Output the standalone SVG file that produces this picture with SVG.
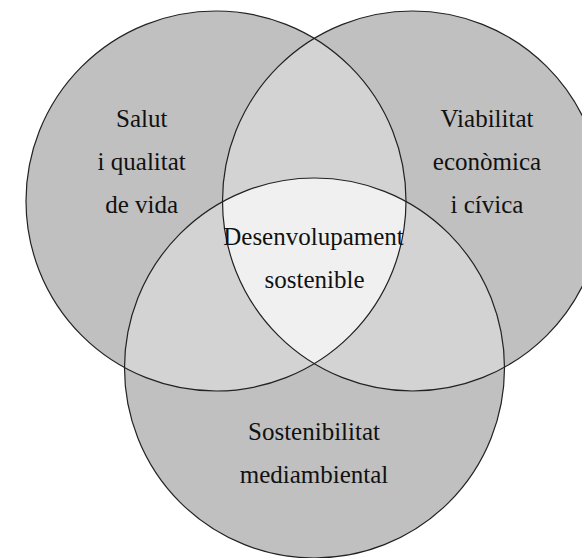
<svg xmlns="http://www.w3.org/2000/svg" width="582" height="558" viewBox="0 0 582 558">
<style>
.base{fill:#c0c0c0;stroke:none}
.pair{fill:#d3d3d3;stroke:none}
.triple{fill:#f0f0f0;stroke:none}
.edge{fill:none;stroke:#222;stroke-width:1.2}
.lbl{font-family:"Liberation Serif","Times New Roman",serif;font-size:25px;fill:#111;text-anchor:middle}
</style>
<defs>
<clipPath id="cL"><circle cx="216" cy="201" r="190"/></clipPath>
<clipPath id="cR"><circle cx="412.5" cy="201" r="190"/></clipPath>
<clipPath id="cB"><circle cx="314.5" cy="368" r="190"/></clipPath>
</defs>
<rect width="582" height="558" fill="#ffffff"/>
<g id="fills">
<circle class="base" cx="216" cy="201" r="190"/>
<circle class="base" cx="412.5" cy="201" r="190"/>
<circle class="base" cx="314.5" cy="368" r="190"/>
<g clip-path="url(#cL)">
<circle class="pair" cx="412.5" cy="201" r="190"/>
<circle class="pair" cx="314.5" cy="368" r="190"/>
</g>
<g clip-path="url(#cR)">
<circle class="pair" cx="314.5" cy="368" r="190"/>
</g>
<g clip-path="url(#cL)">
<g clip-path="url(#cR)">
<circle class="triple" cx="314.5" cy="368" r="190"/>
</g>
</g>
</g>
<g id="salut">
<circle class="edge" cx="216" cy="201" r="190"/>
<text class="lbl" x="141.7" y="127">Salut</text>
<text class="lbl" x="141.7" y="170">i qualitat</text>
<text class="lbl" x="141.7" y="213">de vida</text>
</g>
<g id="viabilitat">
<circle class="edge" cx="412.5" cy="201" r="190"/>
<text class="lbl" x="487" y="127">Viabilitat</text>
<text class="lbl" x="487" y="170">econòmica</text>
<text class="lbl" x="487" y="213">i cívica</text>
</g>
<g id="sostenibilitat">
<circle class="edge" cx="314.5" cy="368" r="190"/>
<text class="lbl" x="314" y="440">Sostenibilitat</text>
<text class="lbl" x="314" y="483">mediambiental</text>
</g>
<g id="desenvolupament">
<text class="lbl" x="313.5" y="245">Desenvolupament</text>
<text class="lbl" x="314.5" y="288">sostenible</text>
</g>
<g id="connectors"/>
</svg>
